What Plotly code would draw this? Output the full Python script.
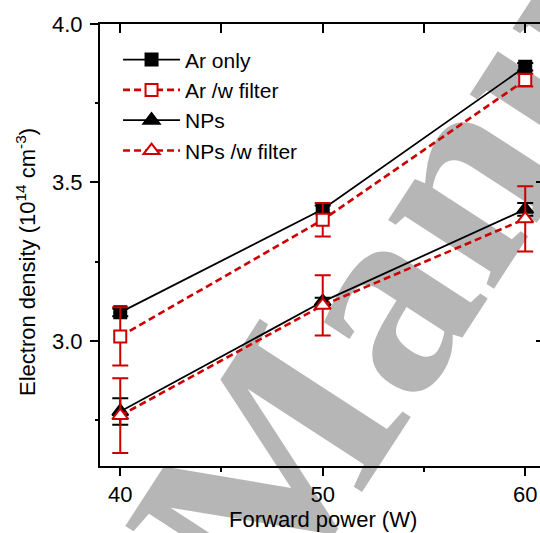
import plotly.graph_objects as go

power = [40, 50, 60]
ar_only = [3.09, 3.415, 3.865]
ar_only_err = [0.012, 0.012, 0.012]
ar_filter = [3.014, 3.382, 3.823]
ar_filter_err = [0.092, 0.053, 0.02]
nps = [2.777, 3.124, 3.415]
nps_err = [0.042, 0.012, 0.02]
nps_filter = [2.764, 3.112, 3.385]
nps_filter_err = [0.118, 0.095, 0.103]

RED = "rgb(204,0,0)"
BLACK = "black"
FONT = "Liberation Sans, Arial, sans-serif"
FS = 22

fig = go.Figure()

def add(name, y, err, color, symbol, fill, dash, lw, size):
    fig.add_trace(go.Scatter(
        x=power, y=y, name=name, mode="lines+markers",
        line=dict(color=color, width=lw, dash=dash),
        marker=dict(symbol=symbol, size=size, color=fill, line=dict(color=color, width=2)),
        error_y=dict(type="data", array=err, visible=True, color=color, thickness=2, width=8),
        cliponaxis=False,
    ))

add("Ar only", ar_only, ar_only_err, BLACK, "square", BLACK, "solid", 1.8, 12)
add("Ar /w filter", ar_filter, ar_filter_err, RED, "square", "white", "7px,4px", 2.6, 12)
add("NPs", nps, nps_err, BLACK, "triangle-up", BLACK, "solid", 1.8, 14)
add("NPs /w filter", nps_filter, nps_filter_err, RED, "triangle-up", "white", "7px,4px", 2.6, 14)

# empty trace to hold the mirrored axes
fig.add_trace(go.Scatter(x=[], y=[], xaxis="x2", yaxis="y2", showlegend=False))

xr = [39, 60.73]
yr = [2.605, 4.0]

fig.update_layout(
    width=540, height=533,
    margin=dict(l=100, r=0, t=24, b=67),
    paper_bgcolor="white", plot_bgcolor="rgba(0,0,0,0)",
    font=dict(family=FONT, size=FS, color="black"),
    showlegend=True,
    legend=dict(x=0.041, y=0.965, xanchor="left", yanchor="top",
                bgcolor="rgba(0,0,0,0)", font=dict(size=21, family=FONT),
                traceorder="normal", itemwidth=57),
    xaxis=dict(range=xr, showline=True, linewidth=2, linecolor="black", mirror=True,
               ticks="outside", ticklen=8, tickwidth=2, tickcolor="black",
               tickvals=[40, 50, 60], showgrid=False, zeroline=False,
               minor=dict(tickvals=[45, 55], ticks="outside", ticklen=4, tickwidth=2, tickcolor="black"),
               tickfont=dict(size=FS)),
    xaxis2=dict(range=xr, overlaying="x", side="top", showline=False,
                ticks="inside", ticklen=9, tickwidth=2, tickcolor="black",
                tickvals=[40, 45, 50, 55, 60], showticklabels=False,
                showgrid=False, zeroline=False),
    yaxis=dict(range=yr, showline=True, linewidth=2, linecolor="black", mirror=False,
               ticks="outside", ticklen=8, tickwidth=2, tickcolor="black",
               tickvals=[3.0, 3.5, 4.0], ticktext=["3.0", "3.5", "4.0"],
               showgrid=False, zeroline=False, ticklabelstandoff=3,
               minor=dict(tickvals=[2.75, 3.25, 3.75], ticks="outside", ticklen=3, tickwidth=2, tickcolor="black"),
               tickfont=dict(size=FS)),
    yaxis2=dict(range=yr, overlaying="y", side="right", showline=False, anchor="x",
                ticks="inside", ticklen=4, tickwidth=2, tickcolor="black",
                tickvals=[3.0, 3.5, 4.0], showticklabels=False,
                showgrid=False, zeroline=False),
    shapes=[dict(type="rect", xref="paper", yref="paper",
                 x0=1.0025, x1=1.0225, y0=1.079, y1=1.099,
                 line=dict(width=0), fillcolor="rgba(0,0,0,0)", layer="below",
                 label=dict(text="Manuscript", textangle=-57, textposition="middle center",
                            font=dict(family="Liberation Serif, Times New Roman, serif",
                                      size=275, weight="bold", color="rgb(182,182,182)")))],
    annotations=[
        dict(text="Forward power (W)", xref="paper", yref="paper",
             x=(323 - 100) / 440, y=-(533 - 466) / 442, xanchor="center", yanchor="bottom",
             borderpad=0, showarrow=False, font=dict(size=FS)),
        dict(text="Electron density (10<sup>14</sup> cm<sup>-3</sup>)", xref="paper", yref="paper",
             x=(26 - 100) / 440, y=(466 - 262) / 442, xanchor="center", yanchor="middle",
             textangle=-90, showarrow=False, font=dict(size=FS)),
    ],
)

fig.write_html("out.html")
